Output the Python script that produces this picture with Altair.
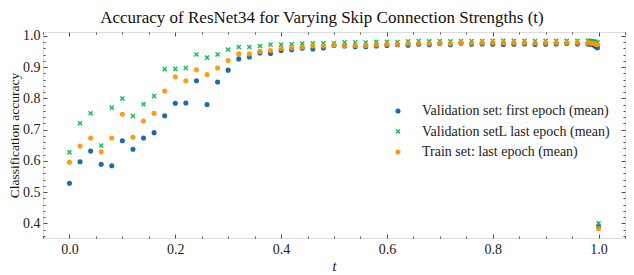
import altair as alt
import pandas as pd

# ---- data ----
t_vals = [0.00, 0.02, 0.04, 0.06, 0.08, 0.10, 0.12, 0.14, 0.16, 0.18,
          0.20, 0.22, 0.24, 0.26, 0.28, 0.30, 0.32, 0.34, 0.36, 0.38,
          0.40, 0.42, 0.44, 0.46, 0.48, 0.50, 0.52, 0.54, 0.56, 0.58,
          0.60, 0.62, 0.64, 0.66, 0.68, 0.70, 0.72, 0.74, 0.76, 0.78,
          0.80, 0.82, 0.84, 0.86, 0.88, 0.90, 0.92, 0.94, 0.96,
          0.980, 0.984, 0.988, 0.992, 0.995, 0.998, 1.000]

val_first = [0.528, 0.597, 0.631, 0.589, 0.584, 0.664, 0.637, 0.673, 0.690, 0.744,
             0.784, 0.785, 0.856, 0.780, 0.852, 0.890, 0.926, 0.932, 0.945, 0.943,
             0.953, 0.955, 0.960, 0.958, 0.961, 0.969, 0.967, 0.965, 0.965, 0.967,
             0.969, 0.971, 0.970, 0.973, 0.971, 0.975, 0.971, 0.976, 0.973, 0.974,
             0.973, 0.972, 0.973, 0.974, 0.972, 0.973, 0.974, 0.975, 0.974,
             0.974, 0.973, 0.972, 0.969, 0.965, 0.962, 0.389]

val_last = [0.627, 0.720, 0.752, 0.649, 0.770, 0.799, 0.743, 0.781, 0.807, 0.893,
            0.894, 0.897, 0.940, 0.930, 0.940, 0.956, 0.964, 0.964, 0.967, 0.972,
            0.972, 0.973, 0.975, 0.976, 0.976, 0.976, 0.979, 0.979, 0.978, 0.981,
            0.981, 0.980, 0.982, 0.983, 0.982, 0.983, 0.982, 0.983, 0.983, 0.983,
            0.984, 0.984, 0.984, 0.984, 0.983, 0.984, 0.984, 0.984, 0.984,
            0.984, 0.984, 0.983, 0.982, 0.980, 0.978, 0.400]

train_last = [0.595, 0.647, 0.673, 0.629, 0.673, 0.749, 0.675, 0.727, 0.752, 0.823,
              0.869, 0.856, 0.891, 0.876, 0.897, 0.921, 0.942, 0.942, 0.950, 0.953,
              0.959, 0.962, 0.963, 0.967, 0.967, 0.970, 0.969, 0.969, 0.969, 0.971,
              0.973, 0.973, 0.975, 0.976, 0.975, 0.977, 0.975, 0.978, 0.977, 0.978,
              0.978, 0.978, 0.978, 0.978, 0.977, 0.978, 0.978, 0.978, 0.978,
              0.978, 0.977, 0.976, 0.975, 0.973, 0.971, 0.383]

series_names = ["Validation set: first epoch (mean)",
                "Validation setL last epoch (mean)",
                "Train set: last epoch (mean)"]
series_colors = ["#0C5DA5", "#00B945", "#FF9500"]

x_major = [0.0, 0.2, 0.4, 0.6, 0.8, 1.0]
x_minor = [-0.05, 0.05, 0.10, 0.15, 0.25, 0.30, 0.35, 0.45, 0.50, 0.55,
           0.65, 0.70, 0.75, 0.85, 0.90, 0.95, 1.05]
y_major = [0.4, 0.5, 0.6, 0.7, 0.8, 0.9, 1.0]
y_minor = [0.36, 0.38, 0.42, 0.44, 0.46, 0.48, 0.52, 0.54, 0.56, 0.58,
           0.62, 0.64, 0.66, 0.68, 0.72, 0.74, 0.76, 0.78, 0.82, 0.84,
           0.86, 0.88, 0.92, 0.94, 0.96, 0.98]

rows = []
for name, vals in zip(series_names, [val_first, val_last, train_last]):
    for t, v in zip(t_vals, vals):
        rows.append({"t": t, "acc": v, "series": name})
df = pd.DataFrame(rows)

FONT = "Liberation Serif"
FS = 14
X_PATH = "M-1,-0.6L-0.6,-1L0,-0.4L0.6,-1L1,-0.6L0.4,0L1,0.6L0.6,1L0,0.4L-0.6,1L-1,0.6L-0.4,0Z"

xs = alt.Scale(domain=[-0.05, 1.05], nice=False, zero=False)
ys = alt.Scale(domain=[0.353, 1.012], nice=False, zero=False)

MAJ, MIN = 4, 2


def axis(orient, values, size, labels=False, title=None, fmt=".1f", italic=False,
         title_size=FS, label_pad=4, title_pad=2):
    kw = dict(orient=orient, values=values, tickSize=size, offset=-size,
              domain=False, grid=False, tickColor="#222", tickWidth=0.8,
              labels=labels)
    if labels:
        kw.update(format=fmt, labelFont=FONT, labelFontSize=FS,
                  labelColor="#222", labelPadding=label_pad)
    else:
        kw.update(minExtent=0, maxExtent=0)
    if title is not None:
        kw.update(title=title, titleFont=FONT, titleFontSize=title_size,
                  titleFontWeight="normal", titleColor="#111", titlePadding=title_pad)
        if italic:
            kw.update(titleFontStyle="italic")
    else:
        kw.update(title=None)
    return alt.Axis(**kw)


points = alt.Chart(df).mark_point(filled=True, size=26, opacity=0.92).encode(
    x=alt.X("t:Q", scale=xs,
            axis=axis("bottom", x_major, MAJ, labels=True, title="t", italic=True,
                      label_pad=4, title_pad=3)),
    y=alt.Y("acc:Q", scale=ys,
            axis=axis("left", y_major, MAJ, labels=True, title="Classification accuracy",
                      title_size=13.5, label_pad=3, title_pad=1)),
    color=alt.Color("series:N",
                    scale=alt.Scale(domain=series_names, range=series_colors),
                    legend=alt.Legend(orient="none", legendX=348, legendY=72,
                                      title=None, labelFont=FONT, labelFontSize=FS,
                                      labelColor="#222", labelOffset=17,
                                      labelLimit=400,
                                      symbolSize=26, rowPadding=6.5,
                                      symbolStrokeWidth=0)),
    shape=alt.Shape("series:N",
                    scale=alt.Scale(domain=series_names,
                                    range=["circle", X_PATH, "circle"])),
    order=alt.Order("order_idx:Q"),
).transform_calculate(
    order_idx="indexof(['" + "','".join(series_names) + "'], datum.series)"
)

ghost = alt.Chart(df).mark_point(opacity=0)

l2 = ghost.encode(
    x=alt.X("t:Q", scale=xs, axis=axis("bottom", x_minor, MIN)),
    y=alt.Y("acc:Q", scale=ys, axis=axis("left", y_minor, MIN)),
)
l3 = ghost.encode(
    x=alt.X("t:Q", scale=xs, axis=axis("top", x_major, MAJ)),
    y=alt.Y("acc:Q", scale=ys, axis=axis("right", y_major, MAJ)),
)
l4 = ghost.encode(
    x=alt.X("t:Q", scale=xs, axis=axis("top", x_minor, MIN)),
    y=alt.Y("acc:Q", scale=ys, axis=axis("right", y_minor, MIN)),
)

chart = alt.layer(points, l2, l3, l4).resolve_axis(
    x="independent", y="independent"
).properties(
    width=582, height=206,
    autosize=alt.AutoSizeParams(type="none"),
    padding={"left": 35, "top": 24, "right": 1, "bottom": 37},
    title=alt.TitleParams("Accuracy of ResNet34 for Varying Skip Connection Strengths (t)",
                          font=FONT, fontSize=17, fontWeight="normal",
                          color="#111", offset=2, dx=-12),
).configure_view(stroke="#222", strokeWidth=1).configure(background="white")

chart.save("out.html", embed_options={"renderer": "svg", "actions": False})
